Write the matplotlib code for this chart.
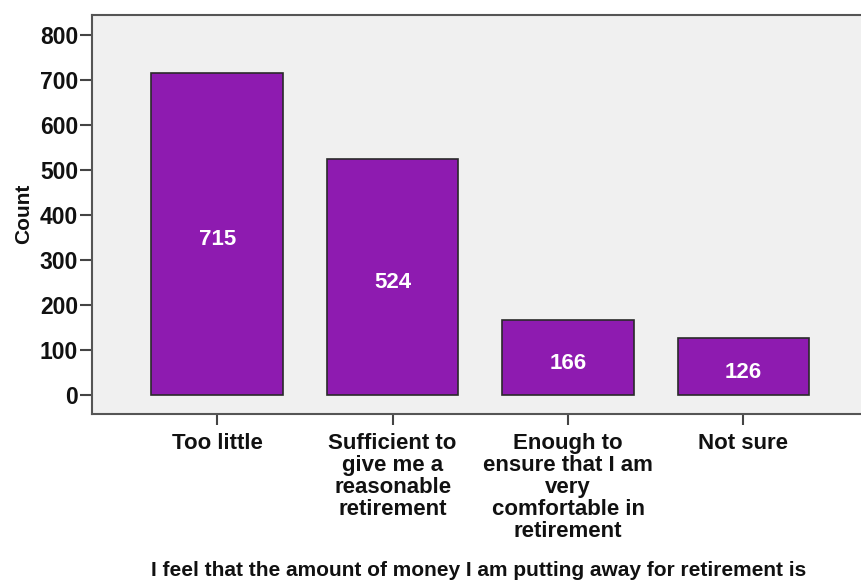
import matplotlib
matplotlib.use("Agg")
import matplotlib.pyplot as plt

categories = ["Too little",
              "Sufficient to\ngive me a\nreasonable\nretirement",
              "Enough to\nensure that I am\nvery\ncomfortable in\nretirement",
              "Not sure"]
counts = [715, 524, 166, 126]
yticks = [0, 100, 200, 300, 400, 500, 600, 700, 800]

plt.rcParams['font.family'] = ['Liberation Sans', 'DejaVu Sans']

fig = plt.figure(figsize=(8.61, 5.80), dpi=100)
ax = fig.add_axes([92/861, 1 - 414/580, 1 - 92/861 + 0.002, (414 - 15)/580])
ax.set_facecolor('#f0f0f0')

x = list(range(len(categories)))
ax.bar(x, counts, width=0.75, color='#8e1bb0', edgecolor='#2a2a2a', linewidth=1.2, zorder=3)
for xi, c in zip(x, counts):
    ax.annotate(str(c), xy=(xi, c / 2), xytext=(0, -4), textcoords='offset points',
                ha='center', va='center', color='white',
                fontsize=16, fontweight='bold', zorder=4)

ax.set_xlim(-0.714, 3.68)
ax.set_ylim(-42, 844)
ax.set_yticks(yticks)
ax.set_yticklabels([str(v) for v in yticks], fontsize=16.5, fontweight='bold', color='#111111')
ax.set_xticks(x)
ax.set_xticklabels(categories, fontsize=16, fontweight='bold', color='#111111', linespacing=1.05, va='top')
ax.tick_params(axis='y', direction='out', length=9, width=1.5, color='#444444', pad=1)
ax.tick_params(axis='x', direction='out', length=8, width=1.5, color='#444444', pad=6)

for s in ['left', 'bottom', 'top']:
    ax.spines[s].set_color('#555555')
    ax.spines[s].set_linewidth(1.5)
ax.spines['right'].set_visible(False)

fig.text(24/861, 1 - 214/580, 'Count', rotation=90, ha='center', va='center',
         fontsize=15, fontweight='bold', color='#111111')
fig.text(479/861, 1 - 571/580, 'I feel that the amount of money I am putting away for retirement is',
         ha='center', va='center', fontsize=15, fontweight='bold', color='#111111')

fig.savefig('out.png', dpi=100)
